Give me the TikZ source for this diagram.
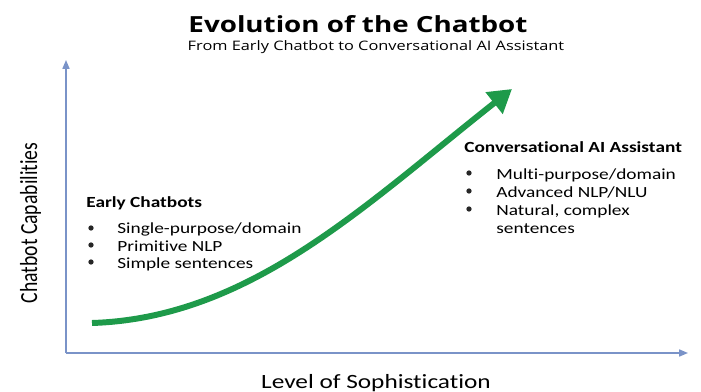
\documentclass[tikz,border=0pt]{standalone}
\usepackage{fontspec}
\setmainfont{Carlito}[RawFeature={-liga;-clig;-calt}]
\newfontfamily\headfont{Open Sans}
\usetikzlibrary{arrows.meta}

\definecolor{axisblue}{HTML}{7A93C8}
\definecolor{growgreen}{HTML}{1E9A4A}

\begin{document}
\begin{tikzpicture}[x=0.02cm,y=-0.02cm,
    txt/.style={anchor=base west, inner sep=0pt, yscale=0.8, font=\fontsize{11}{13}\selectfont},
    head/.style={anchor=base west, inner sep=0pt, yscale=0.8, font=\fontsize{11}{13}\selectfont\bfseries},
    dot/.style={circle, fill=black!85, inner sep=0pt, minimum size=3pt},
    axis/.style={axisblue, line width=0.7pt, -{Triangle[length=5pt,width=4pt]}}]
  % one bullet line: bullet x, baseline y, text offset, name, text
  \def\bulletline(#1,#2)[#3]#4#5{%
    \node[dot] (#4b) at (#1,#2-6) {};
    \node[txt] (#4) at (#1+#3,#2) {#5};
  }

  \useasboundingbox (0,0) rectangle (701,392);

  % titles
  \node[anchor=base, inner sep=0pt, yscale=0.8, font=\headfont\fontsize{15.8}{18}\selectfont\bfseries] (title) at (358,32) {Evolution of the Chatbot};
  \node[anchor=base, inner sep=0pt, yscale=0.8, font=\headfont\fontsize{9.3}{11}\selectfont] (subtitle) at (376,51) {From Early Chatbot to Conversational AI Assistant};

  % axes
  \coordinate (O) at (66,353);
  \coordinate (ytop) at (66,60);
  \coordinate (xend) at (688,353);
  \draw[axis] (O) -- (ytop);
  \draw[axis] (O) -- (xend);
  \node[anchor=base, inner sep=0pt, yscale=0.8, font=\fontsize{14.4}{16}\selectfont] (xlabel) at (376,388) {Level of Sophistication};
  \node[anchor=base, inner sep=0pt, rotate=90, font=\fontsize{14}{16}\selectfont] (ylabel) at (37,223) {\scalebox{0.8}[1]{Chatbot Capabilities}};

  % growth curve
  \coordinate (start) at (92,323);
  \coordinate (tip) at (512,89);
  \draw[growgreen, line width=3.4pt, -{Triangle[length=13pt,width=15pt]}]
    (start) .. controls (250,318) and (365,205) .. (tip);

  % early chatbots
  \node[head] (early) at (86,207) {Early Chatbots};
  \bulletline(91,234)[26]{single}{Single-purpose/domain}
  \bulletline(91,251)[26]{nlp}{Primitive NLP}
  \bulletline(91,268)[26]{simple}{Simple sentences}

  % conversational assistant
  \node[head] (conv) at (464,153) {Conversational AI Assistant};
  \bulletline(469,179)[27]{multi}{Multi-purpose/domain}
  \bulletline(469,197)[27]{nlu}{Advanced NLP/NLU}
  \bulletline(469,215)[27]{natural}{Natural, complex}
  \node[txt] (sentences) at (496,233) {sentences};
\end{tikzpicture}
\end{document}
